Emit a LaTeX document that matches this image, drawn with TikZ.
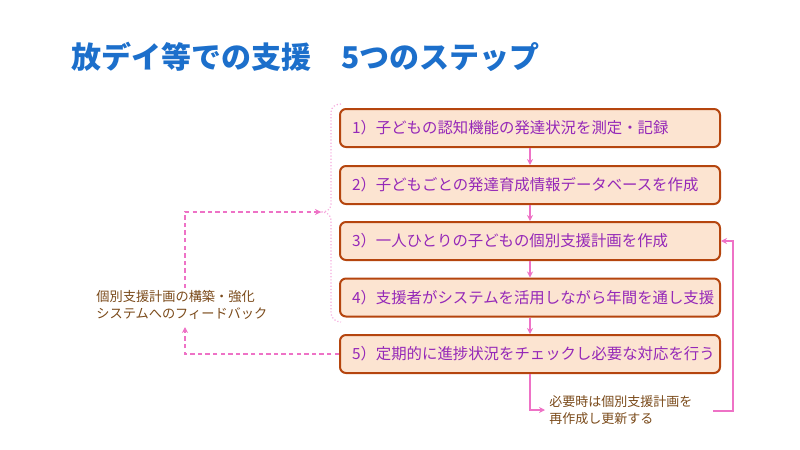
\documentclass[tikz,border=0pt]{standalone}
\usepackage{fontspec}
\setmainfont{Noto Sans CJK JP}
\usepackage{tikz}
\usetikzlibrary{arrows.meta}

\definecolor{titleblue}{HTML}{1C6FCB}
\definecolor{boxline}{HTML}{B5450E}
\definecolor{boxfill}{HTML}{FCE4D1}
\definecolor{steptext}{HTML}{9528B8}
\definecolor{linkpink}{HTML}{EE72C6}
\definecolor{notebrown}{HTML}{7A4A1A}

\begin{document}
\begin{tikzpicture}[x=0.5pt,y=-0.5pt,
  stepbox/.style={draw=boxline,fill=boxfill,line width=1pt,rounded corners=3pt,
    minimum width=190pt,minimum height=19pt,text width=178pt,inner xsep=6pt,
    align=left,text=steptext,font=\fontsize{7.7}{9}\selectfont},
  flow/.style={linkpink,line width=0.7pt,-{Stealth[length=3pt,width=3pt]}},
  fback/.style={flow,dash pattern=on 2.2pt off 1.6pt},
  sidetext/.style={text=notebrown,align=left,inner sep=2pt}]
\useasboundingbox (0,0) rectangle (800,450);
\node[anchor=west,text=titleblue,font=\fontsize{15}{18}\selectfont\bfseries] (title) at (64,57)
   {放デイ等での支援　5つのステップ};
\foreach \n/\y/\t in %
{1/128/子どもの認知機能の発達状況を測定・記録,
 2/185/子どもごとの発達育成情報データベースを作成,
 3/241/一人ひとりの子どもの個別支援計画を作成,
 4/297.5/支援者がシステムを活用しながら年間を通し支援,
 5/354/定期的に進捗状況をチェックし必要な対応を行う} {
   \node[stepbox] (s\n) at (530,\y) {\n）\t};
}
\foreach \a/\b in {1/2,2/3,3/4,4/5} {
   \draw[flow] (s\a.south) -- (s\b.north);
}
% brace round steps 1-4
\draw[linkpink!60,densely dotted,line width=0.6pt] (341,104) to[out=180,in=90] (331,112)
   -- (331,204) to[out=-90,in=0] (322,212) to[out=0,in=90] (331,220)
   -- (331,313) to[out=-90,in=180] (341,322);
\coordinate (tip) at (321,212);
% feedback
\node[sidetext,anchor=west,font=\fontsize{6.6}{8.3}\selectfont] (fb) at (92,305)
   {個別支援計画の構築・強化\\システムへのフィードバック};
\coordinate (fbtop) at (185,288);
\coordinate (fbbot) at (185,327);
\draw[fback] (s5.west) -| (fbbot);
\draw[fback] (fbtop) |- (tip);
% re-planning
\node[sidetext,anchor=west,font=\fontsize{6.5}{8.5}\selectfont] (note) at (545,410)
   {必要時は個別支援計画を\\再作成し更新する};
\coordinate (back) at (713,411);
\draw[flow] (s5.south) |- (note.west);
\draw[flow] (back) -- ++(20,0) |- (s3.east);
\end{tikzpicture}
\end{document}
